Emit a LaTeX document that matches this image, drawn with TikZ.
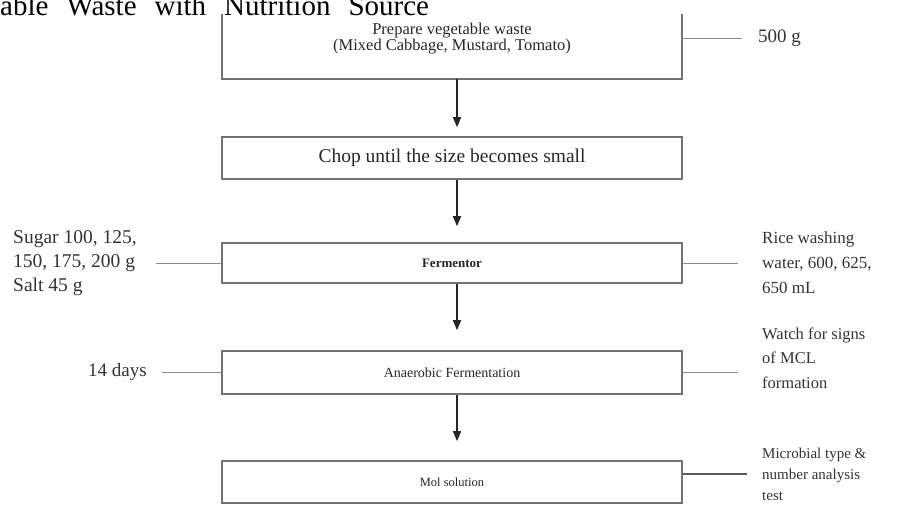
\documentclass[tikz,border=0pt]{standalone}
\usepackage{fontspec}
\setmainfont{Liberation Serif}
\usetikzlibrary{arrows.meta}

\tikzset{
  stepbox/.style={minimum width=460pt, inner sep=0pt, align=center, text=black!85},
  stepframe/.style={draw=black!55, line width=1.6pt},
  sidetext/.style={inner sep=0pt, align=left, text=black!80},
  flowarrow/.style={-{Triangle[width=8pt,length=10pt]}, line width=1.5pt, black!85},
  sideline/.style={line width=1pt, black!45}
}

\begin{document}
\begin{tikzpicture}[x=1pt, y=-1pt]

        % Fix the page to the size of the reference
        \useasboundingbox (0,0) rectangle (901,509);

        % Title, cut off at the top of the page
        \node[anchor=base west, inner sep=0pt, text=black, font=\fontsize{29}{30}\selectfont] (title) at (0,15)
            {able\hspace{18pt}Waste\hspace{18pt}with\hspace{18pt}Nutrition\hspace{18pt}Source};

        % Process steps
        \node[stepbox, minimum height=65pt] (prep) at (452,46.5) {};
        \node[align=center, inner sep=0pt, text=black!85, font=\fontsize{16.5}{16}\selectfont] (preptext) at (452,38.5)
            {Prepare vegetable waste\\(Mixed Cabbage, Mustard, Tomato)};
        \node[stepbox, stepframe, minimum height=42pt, font=\fontsize{19.5}{20}\selectfont] (chop) at (452,158) {Chop until the size becomes small};
        \node[stepbox, stepframe, minimum height=40pt, font=\fontsize{13}{16}\selectfont\bfseries] (ferm) at (452,263) {Fermentor};
        \node[stepbox, stepframe, minimum height=43pt, font=\fontsize{14}{16}\selectfont] (anaer) at (452,372.5) {Anaerobic Fermentation};
        \node[stepbox, stepframe, minimum height=42pt, font=\fontsize{12.5}{14}\selectfont] (mol) at (452,482) {Mol solution};

        % First box is open at the top
        \draw[stepframe] (prep.north west) -- (prep.south west) -- (prep.south east) -- (prep.north east);

        % Loop to draw the arrows between the steps
        \foreach \from/\to/\gap in {prep/chop/9pt, chop/ferm/16pt, ferm/anaer/20pt, anaer/mol/19pt} {
            \draw[flowarrow, shorten >=\gap] ([xshift=5pt]\from.south) -- ([xshift=5pt]\to.north);
        }

        % Side notes
        \node[sidetext, anchor=west, font=\fontsize{19}{20}\selectfont] (amount) at (758,38) {500 g};
        \node[sidetext, anchor=west, font=\fontsize{19.5}{24}\selectfont] (sugar) at (13,263) {Sugar 100, 125,\\150, 175, 200 g\\Salt 45 g};
        \node[sidetext, anchor=west, font=\fontsize{17}{25}\selectfont] (rice) at (762,263) {Rice washing\\water, 600, 625,\\650 mL};
        \node[sidetext, anchor=west, font=\fontsize{19}{20}\selectfont] (days) at (88,372) {14 days};
        \node[sidetext, anchor=west, font=\fontsize{16.5}{24.5}\selectfont] (watch) at (762,358) {Watch for signs\\of MCL\\formation};
        \node[sidetext, anchor=west, font=\fontsize{15}{21}\selectfont] (micro) at (762,474) {Microbial type \&\\number analysis\\test};

        % Lines from the steps to the side notes
        \draw[sideline, shorten >=16pt] (amount.west -| prep.east) -- (amount.west);
        \draw[sideline, shorten <=19pt] (sugar.east |- ferm.west) -- (ferm.west);
        \draw[sideline, shorten >=24pt] (ferm.east) -- (ferm.east -| rice.west);
        \draw[sideline, shorten <=15pt] (days.east) -- (days.east -| anaer.west);
        \draw[sideline, shorten >=24pt] (anaer.east) -- (anaer.east -| watch.west);
        \draw[sideline, line width=2pt, black!65, shorten >=15pt] (micro.west -| mol.east) -- (micro.west);

\end{tikzpicture}
\end{document}
